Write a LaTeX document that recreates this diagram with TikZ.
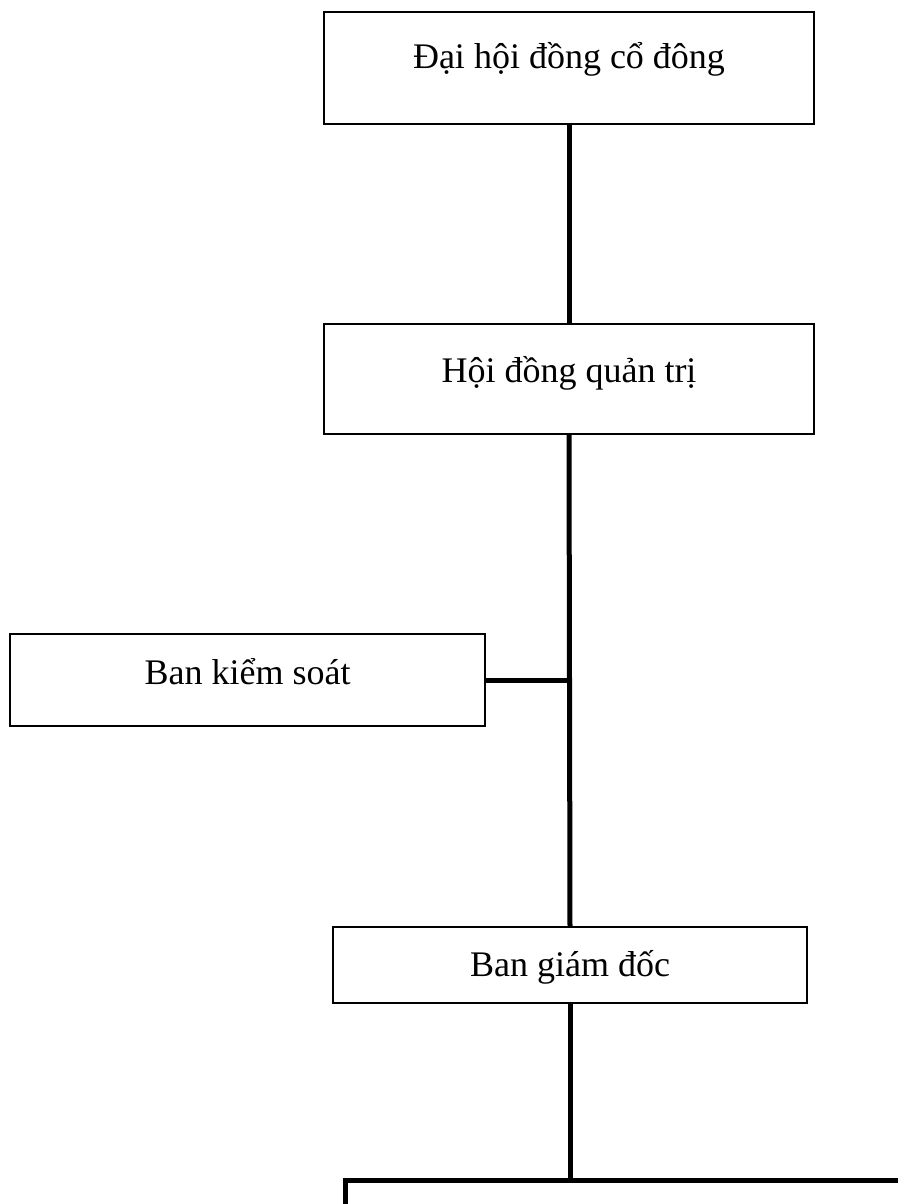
\documentclass[tikz,border=0pt]{standalone}
\usepackage{fontspec}
\setmainfont{Liberation Serif}
\usetikzlibrary{positioning}

\begin{document}
\begin{tikzpicture}[x=0.75pt, y=-0.75pt,
  box/.style={draw, rectangle, line width=1pt, inner sep=0pt, outer sep=0pt},
  txt/.style={anchor=base, inner sep=0pt, font=\fontsize{27}{32}\selectfont},
  link/.style={line width=3.75pt}]
\useasboundingbox (0,0) rectangle (898,1204);

\node (dhdcd) [box, minimum width=367.5pt, minimum height=84pt] at (569,68) {};
\node (hdqt) [box, minimum width=367.5pt, minimum height=82.5pt] at (569,379) {};
\node (bks) [box, minimum width=356.25pt, minimum height=69pt] at (247.5,680) {};
\node (bgd) [box, minimum width=355.5pt, minimum height=57pt] at (570,965) {};

\node [txt] at (569,68) {Đại hội đồng cổ đông};
\node [txt] at (569,382) {Hội đồng quản trị};
\node [txt] at (247.5,684) {Ban kiểm soát};
\node [txt] at (570,976) {Ban giám đốc};

\coordinate (split) at (570,1180);
\coordinate (leftend) at (345,1180);
\coordinate (rightend) at (898,1180);
\coordinate (leftdown) at (345,1204);

\draw[link] (dhdcd.south) -- (hdqt.north);
\draw[link] (hdqt.south) -- (bgd.north);
\draw[link] (bks.east) -- (bks.east -| hdqt.south);
\draw[link] (bgd.south) -- (split);
\draw[link] (leftdown) -- (leftend) -- (rightend);
\end{tikzpicture}
\end{document}
